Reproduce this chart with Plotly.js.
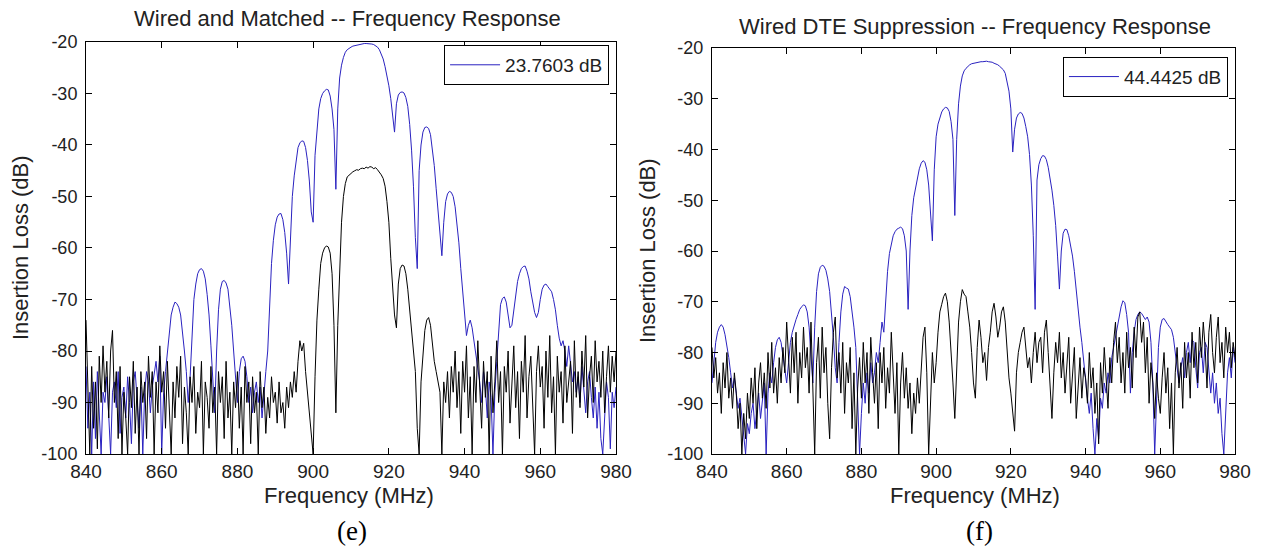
<!DOCTYPE html>
<html>
<head>
<meta charset="utf-8">
<script src="https://cdn.plot.ly/plotly-3.0.1.min.js"></script>
<style>html,body{margin:0;padding:0;background:#fff;}#chart{width:1261px;height:548px;}</style>
</head>
<body>
<div id="chart"></div>
<script>
// Frequency grid (MHz)
const freq = [
840,840.5,841,841.5,842,842.5,843,843.5,844,844.5,845,845.5,846,846.5,847,847.5,848,848.5,849,849.5,
850,850.5,851,851.5,852,852.5,853,853.5,854,854.5,855,855.5,856,856.5,857,857.5,858,858.5,859,859.5,
860,860.5,861,861.5,862,862.5,863,863.5,864,864.5,865,865.5,866,866.5,867,867.5,868,868.5,869,869.5,
870,870.5,871,871.5,872,872.5,873,873.5,874,874.5,875,875.5,876,876.5,877,877.5,878,878.5,879,879.5,
880,880.5,881,881.5,882,882.5,883,883.5,884,884.5,885,885.5,886,886.5,887,887.5,888,888.5,889,889.5,
890,890.5,891,891.5,892,892.5,893,893.5,894,894.5,895,895.5,896,896.5,897,897.5,898,898.5,899,899.5,
900,900.5,901,901.5,902,902.5,903,903.5,904,904.5,905,905.5,906,906.5,907,907.5,908,908.5,909,909.5,
910,910.5,911,911.5,912,912.5,913,913.5,914,914.5,915,915.5,916,916.5,917,917.5,918,918.5,919,919.5,
920,920.5,921,921.5,922,922.5,923,923.5,924,924.5,925,925.5,926,926.5,927,927.5,928,928.5,929,929.5,
930,930.5,931,931.5,932,932.5,933,933.5,934,934.5,935,935.5,936,936.5,937,937.5,938,938.5,939,939.5,
940,940.5,941,941.5,942,942.5,943,943.5,944,944.5,945,945.5,946,946.5,947,947.5,948,948.5,949,949.5,
950,950.5,951,951.5,952,952.5,953,953.5,954,954.5,955,955.5,956,956.5,957,957.5,958,958.5,959,959.5,
960,960.5,961,961.5,962,962.5,963,963.5,964,964.5,965,965.5,966,966.5,967,967.5,968,968.5,969,969.5,
970,970.5,971,971.5,972,972.5,973,973.5,974,974.5,975,975.5,976,976.5,977,977.5,978,978.5,979,979.5,980
];

// (e) Wired and Matched -- blue trace (dB)
const matchedBlue = [
-83,-95,-88,-100,-86,-97,-84,-92,-100,-88,-90,-85,-93,-100,-88,-86,-91,-84,-96,-89,
-87,-93,-85,-90,-98,-86,-84,-89,-95,-87,-100,-88,-84,-86,-92,-87,-84,-82,-86,-81,
-100,-88,-84,-80,-76,-73,-71.5,-70.5,-70.8,-71.5,-73,-76,-80,-84,-90,-85,-76,-70,-67,-65,
-64.2,-64,-64.5,-66,-69,-73,-79,-86,-92,-80,-72,-68,-66.5,-66.3,-66.8,-68,-71,-75,-80,-86,
-90,-84,-81.5,-81,-82,-85,-90,-87,-92,-88,-86,-90,-87,-93,-88,-84,-80,-70,-63,-58.5,
-55.5,-54,-53.4,-53.3,-54.5,-57,-61,-67,-58,-50,-46,-43,-40.5,-39.6,-39.2,-39.3,-40.5,-43,-47,-53,
-55,-42,-36.5,-33,-31,-30,-29.5,-29.2,-29.3,-30.5,-33,-37,-48.6,-33,-27,-24.5,-23,-22,-21.5,-21.2,
-21,-20.8,-20.7,-20.6,-20.5,-20.4,-20.3,-20.3,-20.3,-20.3,-20.3,-20.4,-20.5,-20.8,-21,-21.5,-22.3,-23.3,-24.8,-26.5,
-28.5,-31,-34,-37.5,-32,-30.3,-29.8,-29.7,-29.9,-30.8,-32.5,-36,-41,-48,-58,-64,-45,-40,-37.5,-36.6,
-36.5,-36.8,-38,-40.5,-44,-48.5,-53,-57,-61.5,-55,-51,-49.5,-49,-49.2,-50,-52,-55,-59,-64,-69,
-73,-77,-75,-74,-75.5,-78,-81,-84,-86,-90,-84,-87,-93,-86,-89,-100,-88,-82,-76,-71,
-69.8,-69.5,-70.5,-73,-75.5,-75,-72,-69,-66.5,-65,-64,-63.6,-63.5,-64.5,-66,-68.5,-70.5,-72.5,-73.5,-72.5,
-70,-68,-67.2,-67,-67.5,-68,-68.5,-70,-72,-75,-77.5,-79,-78,-80,-83,-79,-82,-86,-84,-88,
-85,-90,-83,-87,-92,-86,-84,-89,-93,-87,-95,-88,-97,-100,-92,-86,-89,-99,-88,-91,-87
];

// (e) Wired and Matched -- black trace (dB)
const matchedBlack = [
-74,-88,-100,-83,-95,-86,-99,-81,-90,-79,-88,-82,-93,-80,-76,-90,-84,-97,-83,-100,
-88,-93,-100,-85,-91,-82,-96,-87,-100,-84,-90,-86,-97,-81,-89,-84,-100,-86,-92,-79,
-88,-84,-95,-82,-90,-100,-86,-93,-83,-89,-81,-98,-87,-92,-100,-85,-90,-83,-96,-88,
-91,-82,-100,-86,-89,-95,-83,-92,-87,-100,-84,-90,-85,-97,-82,-93,-88,-100,-86,-91,
-84,-95,-87,-100,-83,-90,-86,-98,-85,-92,-88,-100,-84,-91,-87,-96,-89,-93,-85,-90,
-88,-94,-86,-92,-90,-95,-87,-91,-86,-89,-84,-88,-82,-78,-80,-78.5,-84,-88,-92,-97,
-100,-85,-74,-68,-63,-61,-60,-59.6,-59.8,-61,-65,-75,-92,-75,-64,-55,-50,-47.5,-46.2,-45.8,
-45.5,-45.2,-45,-44.8,-44.9,-44.6,-44.5,-44.6,-44.3,-44.5,-44.2,-44.3,-44.6,-44.4,-44.8,-45.2,-45.8,-46.5,-48,-51,
-55,-62,-68,-73,-75.5,-67,-64,-63.3,-63.5,-65,-68,-72,-76,-80,-84,-95,-100,-86,-80,-76,
-74,-73.5,-75,-79,-82,-84,-86,-88,-100,-86,-90,-84,-93,-83,-88,-80,-91,-84,-96,-82,
-88,-79,-93,-85,-100,-83,-90,-78,-87,-95,-82,-89,-84,-100,-81,-92,-86,-78,-90,-84,
-100,-83,-88,-80,-94,-86,-79,-91,-84,-97,-82,-88,-77,-93,-85,-81,-90,-100,-84,-79,
-87,-83,-95,-80,-89,-77,-92,-85,-100,-81,-88,-84,-94,-79,-90,-86,-82,-96,-78,-89,
-84,-91,-80,-87,-77,-93,-85,-81,-90,-78,-86,-82,-89,-80,-92,-85,-79,-88,-81,-86,-80
];

// (f) Wired DTE Suppression -- blue trace (dB)
const dteBlue = [
-86,-82,-78,-76,-75,-74.5,-75,-76.5,-78.5,-81,-84,-87,-85,-88,-91,-89,-93,-97,-100,-94,
-96,-92,-90,-95,-91,-88,-93,-90,-86,-100,-88,-84,-86,-82,-79,-77.5,-77,-78,-81,-84,
-86,-82,-78,-76,-74.5,-73.5,-72.5,-71.5,-71,-70.6,-70.8,-72,-75,-80,-86,-75,-68,-64.5,-63.2,-62.8,
-63,-63.8,-65.5,-68,-72,-77,-83,-86,-78,-72,-68.5,-67,-67.3,-67.5,-69,-71.5,-75,-79,-88,-100,
-92,-86,-90,-84,-88,-82,-86,-84,-80,-82,-78,-74,-76,-70,-64,-60.5,-58.5,-57,-56.2,-55.7,
-55.5,-55.3,-55.6,-57,-60,-71.5,-60,-53,-49.5,-47.5,-45.5,-43.8,-42.7,-42.2,-42.5,-44,-47,-52,-58,-44,
-37.5,-35,-33.5,-32.6,-32,-31.7,-31.8,-32.5,-34.5,-38,-53,-38,-31,-27.5,-25.5,-24.5,-24,-23.6,-23.3,-23.1,
-23,-22.9,-22.8,-22.8,-22.7,-22.7,-22.6,-22.6,-22.7,-22.7,-22.8,-23,-23.1,-23.3,-23.6,-24,-24.3,-25,-26.5,-28.5,
-32,-40.5,-36,-33.8,-33,-32.7,-32.9,-33.8,-35.5,-37.5,-41,-47,-57,-71.5,-46,-43,-41.8,-41.2,-41.3,-42,
-43.5,-45.5,-48,-51,-55,-61,-67.5,-60,-56.5,-55.7,-55.8,-57,-59,-61,-64,-68,-72,-75,-78,-82,
-86,-89,-92,-88,-95,-100,-93,-97,-89,-91,-86,-88,-84,-86,-81,-79,-77,-75,-72.5,-71,
-69.8,-70.2,-72.5,-76,-88,-80,-76,-73.5,-72.5,-72,-72.3,-73,-73.5,-73,-74,-78,-86,-100,-88,-79,
-75,-73.5,-73.3,-74,-74.5,-75,-75.5,-77,-80,-84,-86,-83,-81,-85,-80,-78,-82,-77.5,-78,-83,
-87,-80,-79,-84,-78,-79,-83,-88,-84,-90,-86,-92,-89,-96,-100,-91,-84,-81,-85,-79,-82
];

// (f) Wired DTE Suppression -- black trace (dB)
const dteBlack = [
-79,-85,-81,-88,-84,-92,-82,-87,-80,-89,-85,-91,-84,-88,-95,-90,-100,-92,-97,-88,
-93,-85,-90,-83,-95,-86,-82,-89,-84,-91,-80,-87,-78,-88,-83,-90,-81,-86,-79,-84,
-74,-82,-88,-77,-84,-76,-90,-80,-85,-75,-83,-79,-88,-74,-86,-100,-82,-77,-89,-75,
-84,-79,-90,-97,-83,-76,-73,-85,-80,-88,-78,-92,-82,-86,-79,-95,-84,-100,-87,-81,
-89,-78,-86,-80,-92,-77,-84,-90,-82,-95,-80,-86,-79,-91,-83,-88,-76,-85,-92,-82,
-100,-86,-80,-89,-83,-91,-86,-96,-88,-92,-85,-90,-82,-77,-75,-84,-100,-88,-80,-86,
-82,-76,-72,-70.5,-69,-68.3,-70,-74,-79,-86,-93,-82,-74,-70,-67.6,-68.5,-69,-72,-75,-80,
-86,-89,-79,-73.6,-77,-82,-80,-85.5,-79,-76,-72,-70.3,-73,-77,-75,-72,-71,-74,-80,-85,
-88,-92,-95.5,-84,-80,-78,-76,-75,-79,-83,-81,-86,-80,-76,-82,-78,-77,-84,-76,-73.6,
-80,-86,-93,-84,-78,-82,-76,-85,-80,-88,-82,-77,-90,-84,-79,-93,-86,-81,-89,-83,
-85,-90,-80,-87,-83,-92,-86,-98,-82,-88,-79,-85,-91,-81,-86,-78,-74,-82,-77,-86,
-80,-88,-76,-83,-79,-87,-75,-81,-73,-72,-78,-74,-84,-77,-90,-82,-86,-93,-84,-89,
-92,-85,-80,-88,-83,-95,-86,-100,-84,-79,-87,-82,-91,-78,-85,-80,-89,-76,-83,-78,
-86,-75,-81,-74,-79,-87,-76,-72.5,-80,-84,-77,-73,-82,-78,-85,-75,-80,-76,-83,-78,-81
];

const xTicks = [840, 860, 880, 900, 920, 940, 960, 980];
const xTickLabels = ["840", "860", "880", "900", "920", "940", "960", "980"];
const yTicks = [-100, -90, -80, -70, -60, -50, -40, -30, -20];
const yTickLabels = ["-100", "-90", "-80", "-70", "-60", "-50", "-40", "-30", "-20"];
const legendNames = ["23.7603 dB", "44.4425 dB"];
const panelTitles = ["Wired and Matched -- Frequency Response", "Wired DTE Suppression -- Frequency Response"];
const panelTags = ["(e)", "(f)"];

const BLUE = '#2a22c0';
const traces = [
  {x: freq, y: matchedBlue, type: 'scatter', mode: 'lines', name: legendNames[0],
   line: {color: BLUE, width: 1}, xaxis: 'x', yaxis: 'y', legend: 'legend', showlegend: true},
  {x: freq, y: matchedBlack, type: 'scatter', mode: 'lines', name: 'black',
   line: {color: '#000000', width: 1}, xaxis: 'x', yaxis: 'y', showlegend: false},
  {x: freq, y: dteBlue, type: 'scatter', mode: 'lines', name: legendNames[1],
   line: {color: BLUE, width: 1}, xaxis: 'x2', yaxis: 'y2', legend: 'legend2', showlegend: true},
  {x: freq, y: dteBlack, type: 'scatter', mode: 'lines', name: 'black2',
   line: {color: '#000000', width: 1}, xaxis: 'x2', yaxis: 'y2', showlegend: false}
];

const FONT = 'Liberation Sans, Arial, sans-serif';
function xax(domain, anchor) {
  return {domain: domain, anchor: anchor, range: [840, 980], tickmode: 'array',
    tickvals: xTicks, ticktext: xTickLabels, ticks: 'inside', ticklen: 6, tickcolor: '#000',
    showline: true, linecolor: '#000', linewidth: 1, mirror: 'ticks', showgrid: false,
    zeroline: false, tickfont: {family: FONT, size: 19, color: '#222'}, fixedrange: true};
}
function yax(domain, anchor) {
  return {domain: domain, anchor: anchor, range: [-100, -20], tickmode: 'array',
    tickvals: yTicks, ticktext: yTickLabels, ticks: 'inside', ticklen: 6, tickcolor: '#000',
    showline: true, linecolor: '#000', linewidth: 1, mirror: 'ticks', showgrid: false,
    zeroline: false, tickfont: {family: FONT, size: 18, color: '#222'}, fixedrange: true,
    ticklabelstandoff: 4};
}
const legendBase = {xanchor: 'right', yanchor: 'top', bordercolor: '#000', borderwidth: 1,
  bgcolor: '#fff', font: {family: FONT, size: 19, color: '#222'}, itemwidth: 50};

function ann(text, x, y, size, extra) {
  return Object.assign({text: text, x: x, y: y, xref: 'paper', yref: 'paper',
    showarrow: false, xanchor: 'center', yanchor: 'middle',
    font: {family: FONT, size: size, color: '#222'}}, extra || {});
}

const layout = {
  width: 1261, height: 548,
  margin: {l: 0, r: 0, t: 0, b: 0},
  paper_bgcolor: '#fff', plot_bgcolor: '#fff',
  font: {family: FONT, color: '#222'},
  xaxis: xax([0.0682, 0.4885], 'y'),
  yaxis: yax([0.1715, 0.9234], 'x'),
  xaxis2: xax([0.5646, 0.9794], 'y2'),
  yaxis2: yax([0.1715, 0.9124], 'x2'),
  legend: Object.assign({x: 0.483, y: 0.918}, legendBase),
  legend2: Object.assign({x: 0.9738, y: 0.8965}, legendBase),
  annotations: [
    ann(panelTitles[0], 0.2752, 0.9655, 22),
    ann(panelTitles[1], 0.7732, 0.9525, 22),
    ann('Frequency (MHz)', 0.2768, 0.0967, 22),
    ann('Frequency (MHz)', 0.7732, 0.0967, 22),
    ann('Insertion Loss (dB)', 0.0159, 0.5474, 22, {textangle: -90}),
    ann('Insertion Loss (dB)', 0.5139, 0.542, 22, {textangle: -90}),
    ann(panelTags[0], 0.2791, 0.031, 27, {font: {family: 'Liberation Serif, Times New Roman, serif', size: 27, color: '#000'}}),
    ann(panelTags[1], 0.7771, 0.031, 27, {font: {family: 'Liberation Serif, Times New Roman, serif', size: 27, color: '#000'}})
  ]
};

Plotly.newPlot('chart', traces, layout, {staticPlot: true, displayModeBar: false});
</script>
</body>
</html>
